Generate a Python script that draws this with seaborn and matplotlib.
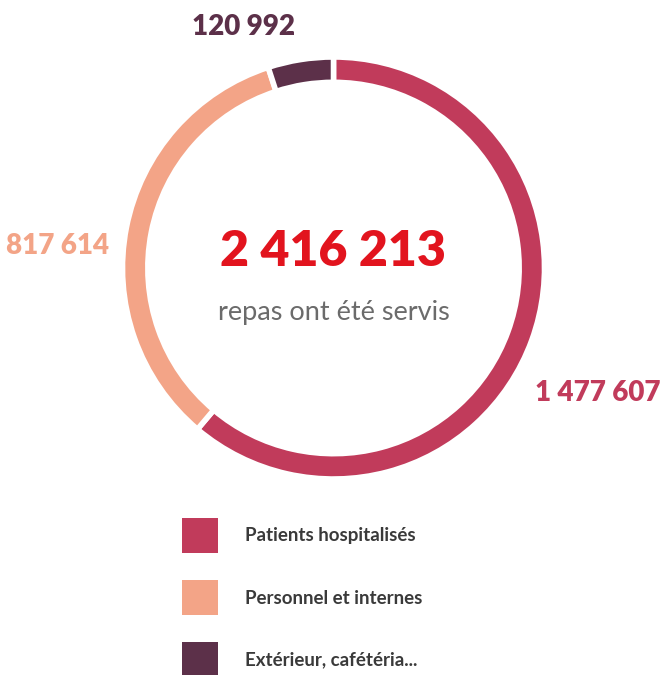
import matplotlib
matplotlib.use('Agg')
import matplotlib.pyplot as plt
import seaborn as sns
from matplotlib.patches import Rectangle

categories = ['Patients hospitalisés', 'Personnel et internes', 'Extérieur, cafétéria...']
values = [1477607, 817614, 120992]
value_labels = ['1 477 607', '817 614', '120 992']
total_label = '2 416 213'
subtitle = 'repas ont été servis'
colors = ['#C13B5B', '#F3A487', '#5C3049']

sns.set_theme(style='white')
plt.rcParams['font.family'] = ['Lato', 'DejaVu Sans']

W, H = 666, 675
fig = plt.figure(figsize=(W / 100, H / 100), dpi=100)
fig.patch.set_facecolor('white')

cx, cy, r = 333.5, 268, 211
ax = fig.add_axes([(cx - r) / W, (H - cy - r) / H, 2 * r / W, 2 * r / H])
wedges, _ = ax.pie(values, colors=colors, startangle=90, counterclock=False,
                   radius=1, wedgeprops=dict(width=0.12, edgecolor='white', linewidth=4))
ax.set_xlim(-1, 1)
ax.set_ylim(-1, 1)
ax.axis('off')

ax.text(0, 0.08, total_label, ha='center', va='center', fontsize=36,
        fontweight='heavy', color='#E2141E')
ax.text(0, -0.21, subtitle, ha='center', va='center', fontsize=19.5, color='#6b6b6b')

# value labels around the ring
label_pos = [(598, 393), (58, 246), (243, 27)]
for (px, py), txt, col in zip(label_pos, value_labels, colors):
    fig.text(px / W, 1 - py / H, txt, ha='center', va='center', fontsize=20,
             fontweight='heavy', color=col)

# legend
for i, (cat, col) in enumerate(zip(categories, colors)):
    top = 518 + i * 62
    fig.add_artist(Rectangle((182 / W, 1 - (top + 35) / H), 36 / W, 35 / H,
                             transform=fig.transFigure, facecolor=col, edgecolor='none'))
    fig.text(245 / W, 1 - (top + 18) / H, cat, ha='left', va='center', fontsize=13.5,
             fontweight='bold', color='#3a3a3a')

fig.savefig('out.png', dpi=100, facecolor='white')
